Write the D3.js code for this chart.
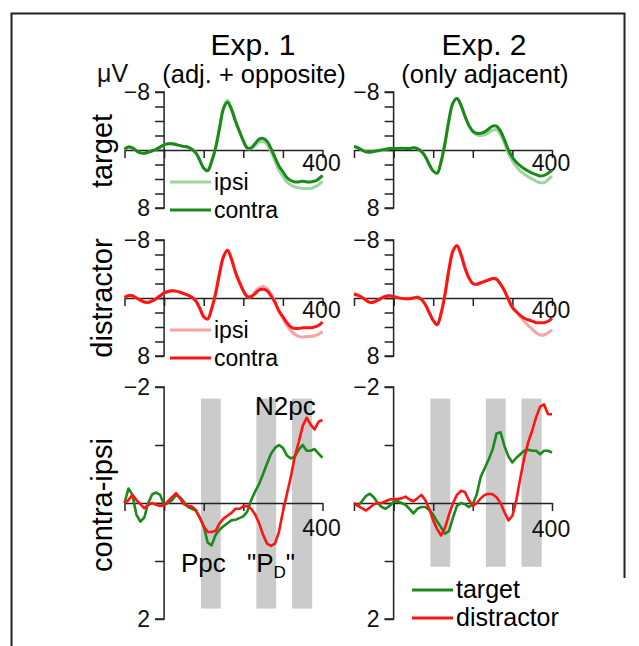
<!DOCTYPE html>
<html>
<head>
<meta charset="utf-8">
<script src="https://cdn.jsdelivr.net/npm/d3@7"></script>
<style>
  body { margin: 0; background: #fff; }
  svg { display: block; font-family: "Liberation Sans", Arial, sans-serif; }
</style>
</head>
<body>
<div id="chart"></div>
<script>
// sample times (ms), one value every 10 ms
var times = d3.range(-100, 401, 10);

// ERPs (µV), Exp. 1 target
var target1Contra = [-0.1,-0.4,-0.3,0.1,0.4,0.45,0.3,0.1,-0.1,-0.4,-0.7,-0.85,-0.85,-0.75,-0.6,-0.5,-0.4,-0.1,0.4,1.4,2.5,2.85,1.6,-0.3,-3.0,-5.7,-6.6,-5.6,-4.0,-2.6,-1.3,-0.3,-0.3,-0.9,-1.5,-1.6,-1.2,-0.2,1.0,2.2,3.0,3.8,4.2,4.4,4.4,4.3,4.4,4.4,4.3,4.0,3.5];
var target1Ipsi = [-0.1,-0.4,-0.3,0.1,0.4,0.45,0.3,0.1,-0.1,-0.4,-0.7,-0.85,-0.85,-0.75,-0.6,-0.5,-0.4,-0.1,0.4,1.4,2.5,2.85,1.6,-0.3,-3.1,-5.9,-6.85,-5.8,-4.1,-2.6,-1.2,-0.2,-0.2,-0.6,-1.1,-1.2,-0.8,0.2,1.5,2.8,3.6,4.4,4.8,5.1,5.2,5.3,5.3,5.3,5.1,4.8,4.3];
// Exp. 2 target
var target2Contra = [-0.5,-0.3,0.0,0.25,0.3,0.2,0.1,0.0,-0.1,-0.2,-0.2,-0.2,-0.25,-0.2,-0.2,-0.3,-0.2,0.2,0.9,2.0,2.9,3.2,1.6,-1.0,-4.2,-6.5,-7.1,-6.2,-4.7,-3.4,-2.6,-2.3,-2.3,-2.5,-2.9,-3.3,-3.3,-2.6,-1.4,0.0,1.0,1.7,2.2,2.6,2.9,3.2,3.4,3.6,3.5,3.2,2.8];
var target2Ipsi = [-0.5,-0.3,0.0,0.25,0.3,0.2,0.1,0.0,-0.1,-0.2,-0.2,-0.2,-0.25,-0.2,-0.2,-0.3,-0.2,0.2,0.9,2.0,2.9,3.2,1.6,-1.0,-4.2,-6.5,-7.1,-6.2,-4.7,-3.4,-2.5,-2.1,-2.0,-2.1,-2.4,-2.7,-2.8,-2.1,-0.9,0.5,1.5,2.3,2.9,3.3,3.7,4.0,4.3,4.5,4.5,4.1,3.6];
// Exp. 1 distractor
var distr1Contra = [-0.1,-0.3,-0.3,0.0,0.3,0.55,0.6,0.4,0.1,-0.3,-0.7,-0.9,-1.0,-0.95,-0.8,-0.6,-0.4,-0.1,0.4,1.4,2.6,2.9,1.5,-0.6,-3.4,-5.7,-6.6,-5.4,-3.6,-2.2,-1.0,-0.2,-0.2,-0.6,-1.1,-1.2,-1.0,-0.3,0.6,1.8,2.6,3.4,4.0,4.2,4.2,4.1,4.1,4.1,4.0,3.8,3.3];
var distr1Ipsi = [-0.1,-0.3,-0.3,0.0,0.3,0.55,0.6,0.4,0.1,-0.3,-0.7,-0.9,-1.0,-0.95,-0.8,-0.6,-0.4,-0.1,0.4,1.4,2.6,2.9,1.5,-0.6,-3.4,-5.7,-6.6,-5.4,-3.6,-2.2,-1.0,-0.2,-0.2,-0.9,-1.4,-1.6,-1.3,-0.5,0.5,1.8,2.8,3.8,4.5,5.0,5.3,5.4,5.3,5.3,5.2,5.0,4.6];
// Exp. 2 distractor
var distr2Contra = [-0.55,-0.35,-0.1,0.3,0.6,0.55,0.3,0.0,-0.25,-0.3,-0.2,-0.05,0.05,0.1,0.1,0.0,-0.1,0.2,0.9,2.0,3.1,3.7,2.1,-0.6,-4.0,-6.5,-7.2,-6.0,-4.2,-2.8,-2.0,-1.9,-2.1,-2.3,-2.5,-2.7,-2.6,-1.9,-1.0,0.2,1.3,1.9,2.4,2.8,3.0,3.2,3.4,3.4,3.4,3.2,2.8];
var distr2Ipsi = [-0.55,-0.35,-0.1,0.3,0.6,0.55,0.3,0.0,-0.25,-0.3,-0.2,-0.05,0.05,0.1,0.1,0.0,-0.1,0.2,0.9,2.0,3.1,3.7,2.1,-0.6,-4.0,-6.5,-7.2,-6.0,-4.2,-2.8,-2.0,-1.9,-2.1,-2.3,-2.5,-2.7,-2.6,-1.9,-1.0,0.2,1.3,1.9,2.6,3.2,3.8,4.3,4.8,5.1,5.1,4.8,4.4];
// contra-ipsi differences
var diffTarget1 = [0.0,-0.25,-0.14,0.2,0.32,0.25,0.0,-0.15,-0.18,-0.14,0.03,0.0,-0.05,-0.14,-0.1,-0.02,0.07,0.1,0.13,0.25,0.4,0.68,0.73,0.55,0.46,0.4,0.35,0.3,0.29,0.26,0.23,0.15,-0.05,-0.2,-0.33,-0.5,-0.68,-0.85,-0.95,-1.0,-0.95,-0.82,-0.77,-0.8,-0.92,-1.0,-0.9,-0.9,-0.93,-0.85,-0.78];
var diffDistr1 = [0.0,-0.05,-0.14,-0.05,0.02,0.09,0.03,0.0,0.03,0.05,0.04,-0.03,-0.1,-0.17,-0.08,0.02,0.05,0.06,0.12,0.25,0.4,0.5,0.5,0.48,0.35,0.27,0.22,0.17,0.1,0.1,0.06,0.05,0.1,0.2,0.35,0.55,0.7,0.74,0.7,0.5,0.15,-0.15,-0.45,-0.8,-1.05,-1.33,-1.47,-1.35,-1.27,-1.4,-1.43];
var diffTarget2 = [0.0,0.05,-0.03,-0.12,-0.16,-0.1,0.0,0.07,0.1,0.05,-0.02,-0.03,0.0,0.03,0.1,0.18,0.1,0.07,0.07,0.12,0.2,0.32,0.42,0.53,0.48,0.25,0.05,0.0,0.02,0.07,0.02,-0.15,-0.45,-0.6,-0.75,-0.92,-1.2,-1.22,-0.98,-0.8,-0.7,-0.78,-0.84,-0.9,-0.92,-0.9,-0.9,-0.84,-0.9,-0.9,-0.87];
var diffDistr2 = [0.0,0.05,0.09,0.13,0.08,0.02,0.0,0.0,-0.03,-0.06,-0.07,-0.07,-0.08,-0.11,-0.06,-0.03,-0.08,-0.14,-0.05,0.1,0.3,0.45,0.56,0.42,0.2,0.0,-0.14,-0.21,-0.19,-0.05,0.05,0.0,-0.08,-0.14,-0.16,-0.15,-0.1,0.0,0.16,0.3,0.22,-0.05,-0.43,-0.78,-1.05,-1.25,-1.48,-1.66,-1.7,-1.53,-1.53];

// analysis windows (ms) shaded in the bottom row
var windows = [[93, 143], [233, 283], [323, 374]];

var colTitles = ["Exp. 1", "Exp. 2"];
var colSubtitles = ["(adj. + opposite)", "(only adjacent)"];
var rowLabels = ["target", "distractor", "contra-ipsi"];

var green = "#1b8a1b", lightGreen = "#9ed49e",
    red = "#ff1414", lightRed = "#f7a3a3";

var width = 639, height = 646;

var svg = d3.select("#chart").append("svg")
    .attr("width", width)
    .attr("height", height);

// frame
svg.append("path")
    .attr("d", "M11.5,646 V13.5 H624.5 V578")
    .attr("fill", "none")
    .attr("stroke", "#222")
    .attr("stroke-width", 2);

var xLeft = d3.scaleLinear().domain([-100, 400]).range([124.5, 322.5]);
var xRight = d3.scaleLinear().domain([-100, 400]).range([354, 552]);
var yRow1 = d3.scaleLinear().domain([-8, 8]).range([92, 208]);
var yRow2 = d3.scaleLinear().domain([-8, 8]).range([240, 356]);
var yRow3 = d3.scaleLinear().domain([-2, 2]).range([387, 619]);

var panels = [
  {x: xLeft, y: yRow1, ticks: d3.range(-8, 9, 2), lab: [-8, 8], lines: [[target1Ipsi, lightGreen], [target1Contra, green]], smooth: true, x400: 171},
  {x: xRight, y: yRow1, ticks: d3.range(-8, 9, 2), lab: [-8, 8], lines: [[target2Ipsi, lightGreen], [target2Contra, green]], smooth: true, x400: 171},
  {x: xLeft, y: yRow2, ticks: d3.range(-8, 9, 2), lab: [-8, 8], lines: [[distr1Ipsi, lightRed], [distr1Contra, red]], smooth: true, x400: 318},
  {x: xRight, y: yRow2, ticks: d3.range(-8, 9, 2), lab: [-8, 8], lines: [[distr2Ipsi, lightRed], [distr2Contra, red]], smooth: true, x400: 318},
  {x: xLeft, y: yRow3, ticks: d3.range(-2, 3, 1), lab: [-2, 2], lines: [[diffTarget1, green], [diffDistr1, red]], smooth: false, x400: 536, bars: [-1.8, 1.82]},
  {x: xRight, y: yRow3, ticks: d3.range(-2, 3, 1), lab: [-2, 2], lines: [[diffTarget2, green], [diffDistr2, red]], smooth: false, x400: 537, bars: [-1.8, 1.1]}
];

var fmt = function(d) { return d < 0 ? "\u2212" + Math.abs(d) : String(d); };

panels.forEach(function(p) {
  var g = svg.append("g");

  if (p.bars) {
    g.selectAll("rect.win")
      .data(windows)
      .enter().append("rect")
      .attr("x", function(d) { return p.x(d[0]); })
      .attr("width", function(d) { return p.x(d[1]) - p.x(d[0]); })
      .attr("y", p.y(p.bars[0]))
      .attr("height", p.y(p.bars[1]) - p.y(p.bars[0]))
      .attr("fill", "#cbcbcb");
  }

  // y axis
  var yAxis = d3.axisLeft(p.y).tickValues(p.ticks).tickSize(9).tickFormat("");
  var ya = g.append("g").attr("transform", "translate(" + p.x(0) + ",0)").call(yAxis);
  ya.select(".domain").attr("d", "M-9," + p.y.range()[0] + "H0V" + p.y.range()[1] + "H-9");
  ya.selectAll("line, path").attr("stroke", "#222").attr("stroke-width", 1.5);

  g.selectAll("text.ylab")
    .data(p.lab)
    .enter().append("text")
    .attr("x", p.x(0) - 14)
    .attr("y", function(d) { return p.y(d) + 8; })
    .attr("text-anchor", "end")
    .attr("font-size", 23)
    .attr("fill", "#111")
    .text(fmt);

  // x axis at zero
  var xAxis = d3.axisBottom(p.x).tickValues([-100, 0, 100, 200, 300, 400]).tickSize(8).tickSizeOuter(0).tickFormat("");
  var xa = g.append("g").attr("transform", "translate(0," + p.y(0) + ")").call(xAxis);
  xa.selectAll("line, path").attr("stroke", "#222").attr("stroke-width", 1.5);

  g.append("text")
    .attr("x", p.x(400) - 1)
    .attr("y", p.x400)
    .attr("text-anchor", "middle")
    .attr("font-size", 23)
    .attr("fill", "#111")
    .text("400");

  var line = d3.line()
    .x(function(d, i) { return p.x(times[i]); })
    .y(function(d) { return p.y(d); })
    .curve(p.smooth ? d3.curveCatmullRom : d3.curveLinear);

  g.selectAll("path.erp")
    .data(p.lines)
    .enter().append("path")
    .attr("class", "erp")
    .attr("d", function(d) { return line(d[0]); })
    .attr("fill", "none")
    .attr("stroke", function(d) { return d[1]; })
    .attr("stroke-width", p.smooth ? 3 : 2.6)
    .attr("stroke-linejoin", "round");
});

// titles
var titleX = [253, 484];
titleX.forEach(function(x, i) {
  svg.append("text").attr("x", x).attr("y", 55).attr("text-anchor", "middle")
    .attr("font-size", 30).attr("fill", "#000").text(colTitles[i]);
  svg.append("text").attr("x", x + 1).attr("y", 83).attr("text-anchor", "middle")
    .attr("font-size", 25.5).attr("fill", "#000").text(colSubtitles[i]);
});

svg.append("text").attr("x", 97).attr("y", 82).attr("font-size", 25).attr("fill", "#111").text("\u03bcV");

// row labels
var rowY = [151, 298, 505];
rowLabels.forEach(function(t, i) {
  svg.append("text")
    .attr("transform", "translate(112," + rowY[i] + ") rotate(-90)")
    .attr("text-anchor", "middle")
    .attr("font-size", 29)
    .attr("fill", "#000")
    .text(t);
});

// legends
function legend(x, y, items, size) {
  items.forEach(function(it, i) {
    svg.append("line")
      .attr("x1", x).attr("x2", x + 41)
      .attr("y1", y + i * 28).attr("y2", y + i * 28)
      .attr("stroke", it[1]).attr("stroke-width", 3);
    svg.append("text")
      .attr("x", x + 44).attr("y", y + i * 28 + 8)
      .attr("font-size", size).attr("fill", "#000")
      .text(it[0]);
  });
}
legend(170, 182, [["ipsi", lightGreen], ["contra", green]], 23);
legend(170, 330, [["ipsi", lightRed], ["contra", red]], 23);
legend(412, 590, [["target", green], ["distractor", red]], 25);

// component labels
svg.append("text").attr("x", 255).attr("y", 415).attr("font-size", 26).attr("fill", "#000").text("N2pc");
svg.append("text").attr("x", 181).attr("y", 572).attr("font-size", 26).attr("fill", "#000").text("Ppc");
var pd = svg.append("text").attr("x", 247).attr("y", 572).attr("font-size", 26).attr("fill", "#000");
pd.append("tspan").text("\"P");
pd.append("tspan").attr("font-size", 17).attr("dy", 6).text("D");
pd.append("tspan").attr("dy", -6).text("\"");
</script>
</body>
</html>
